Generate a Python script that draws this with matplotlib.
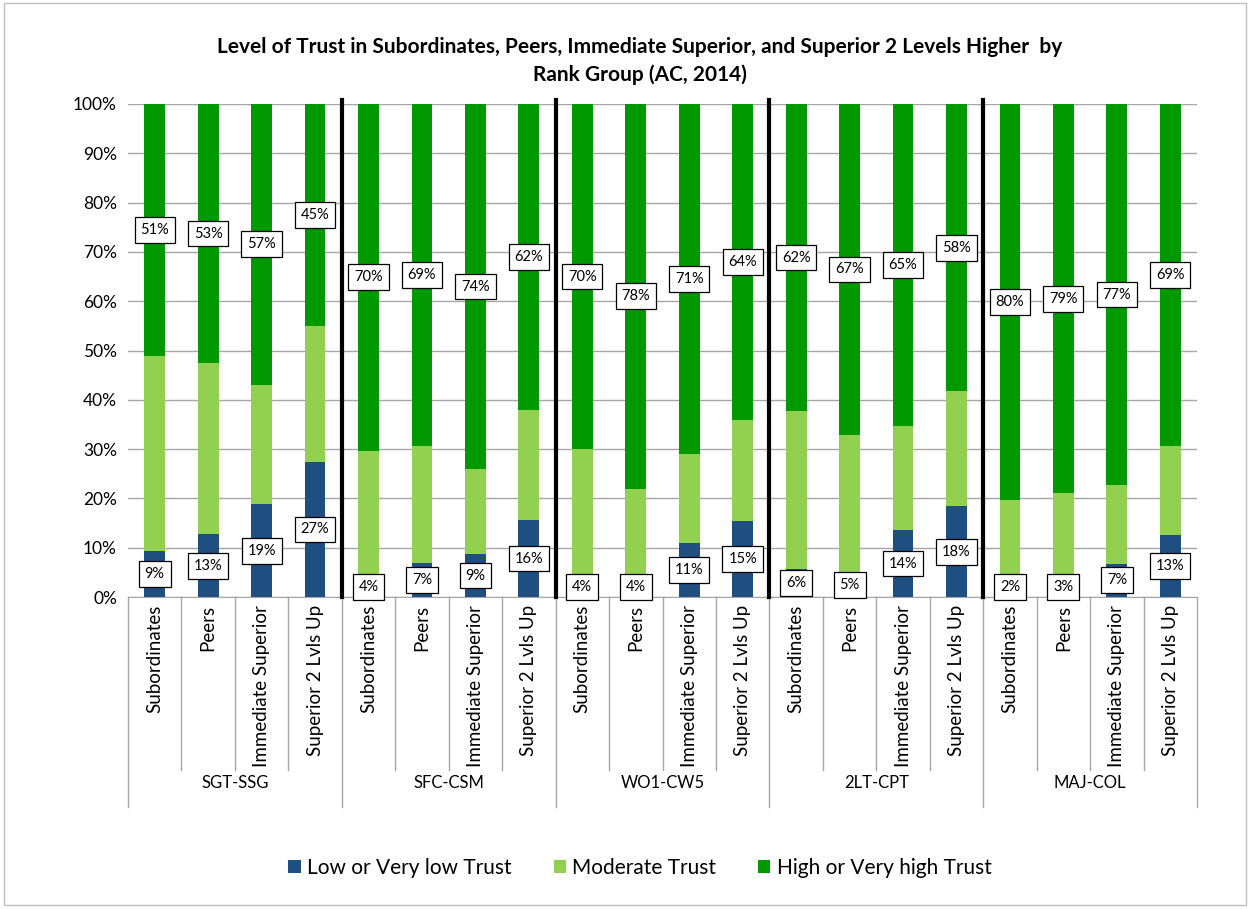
import numpy as np
import matplotlib.pyplot as plt
from matplotlib.patches import Rectangle
from matplotlib.transforms import blended_transform_factory

plt.rcParams["font.family"] = ["Lato", "DejaVu Sans"]

groups = ["SGT-SSG", "SFC-CSM", "WO1-CW5", "2LT-CPT", "MAJ-COL"]
targets = ["Subordinates", "Peers", "Immediate Superior", "Superior 2 Lvls Up"]
series = ["Low or Very low Trust", "Moderate Trust", "High or Very high Trust"]

# percent values, 4 bars per rank group
low = [9.4, 12.7, 18.8, 27.4,
       4.0, 7.0, 8.7, 15.6,
       4.0, 4.0, 11.0, 15.4,
       5.6, 5.0, 13.6, 18.4,
       2.0, 3.0, 6.8, 12.6]
moderate = [39.4, 34.7, 24.3, 27.6,
            25.7, 23.6, 17.2, 22.3,
            26.0, 18.0, 18.1, 20.5,
            32.1, 27.9, 21.0, 23.3,
            17.6, 18.0, 15.9, 18.0]
high = [51.2, 52.6, 56.9, 45.0,
        70.3, 69.4, 74.1, 62.1,
        70.0, 78.0, 70.9, 64.1,
        62.3, 67.1, 65.4, 58.3,
        80.4, 79.0, 77.3, 69.4]

colors = ["#1F4E80", "#92D050", "#009900"]

fig = plt.figure(figsize=(12.5, 9.09), dpi=100)
ax = fig.add_axes([0.1024, 0.3432, 0.8552, 0.5424])

n = len(low)
x = np.arange(n)
w = 0.39
low = np.array(low)
moderate = np.array(moderate)
high = np.array(high)

ax.bar(x, low, w, color=colors[0], label=series[0], zorder=2)
ax.bar(x, moderate, w, bottom=low, color=colors[1], label=series[1], zorder=2)
ax.bar(x, high, w, bottom=low + moderate, color=colors[2], label=series[2], zorder=2)

box = dict(boxstyle="square,pad=0.4", fc="white", ec="black", lw=0.9)
for i in range(n):
    yl = max(low[i] / 2, 2.0)
    ax.text(x[i], yl, f"{round(low[i]):.0f}%", ha="center", va="center",
            fontsize=10.5, bbox=box, zorder=5)
    yh = low[i] + moderate[i] + high[i] / 2
    ax.text(x[i], yh, f"{round(high[i]):.0f}%", ha="center", va="center",
            fontsize=10.5, bbox=box, zorder=5)

ax.set_xlim(-0.5, n - 0.5)
ax.set_ylim(0, 100)
ax.set_yticks(np.arange(0, 101, 10))
ax.set_yticklabels([f"{v}%" for v in range(0, 101, 10)], fontsize=12.5)
ax.yaxis.grid(True, color="#A6A6A6", lw=1, zorder=0)
ax.set_xticks([])
for s in ["top", "right", "left"]:
    ax.spines[s].set_visible(False)
ax.spines["bottom"].set_color("#A6A6A6")
ax.tick_params(axis="y", length=0, pad=8)

# group separators in the plot
for b in [3.5, 7.5, 11.5, 15.5]:
    ax.plot([b, b], [0, 100.8], color="black", lw=3, clip_on=False, zorder=4)

# category axis below
tr = blended_transform_factory(ax.transData, ax.transAxes)
for b in np.arange(-0.5, n, 1.0):
    if b in (-0.5, 3.5, 7.5, 11.5, 15.5, n - 0.5):
        ax.plot([b, b], [0, -0.426], color="#A6A6A6", lw=1, clip_on=False, transform=tr)
    else:
        ax.plot([b, b], [0, -0.351], color="#A6A6A6", lw=1, clip_on=False, transform=tr)

for i in range(n):
    ax.text(x[i], -0.016, targets[i % 4], rotation=90, ha="center", va="top",
            fontsize=13.5, transform=tr)
for g, name in enumerate(groups):
    ax.text(g * 4 + 1.5, -0.377, name, ha="center", va="center",
            fontsize=12, transform=tr)

fig.text(0.512, 0.933, "Level of Trust in Subordinates, Peers, Immediate Superior, and Superior 2 Levels Higher  by\nRank Group (AC, 2014)",
         ha="center", va="center", fontsize=15, fontweight="bold", linespacing=1.45)

fig.legend(loc="center", bbox_to_anchor=(0.512, 0.045), ncol=3, frameon=False,
           fontsize=15, handlelength=0.6, handleheight=0.6, columnspacing=2.0,
           handletextpad=0.3)

fig.patches.append(Rectangle((0.003, 0.004), 0.994, 0.993, transform=fig.transFigure,
                             fill=False, ec="#BFBFBF", lw=1))

fig.savefig("out.png", dpi=100)
